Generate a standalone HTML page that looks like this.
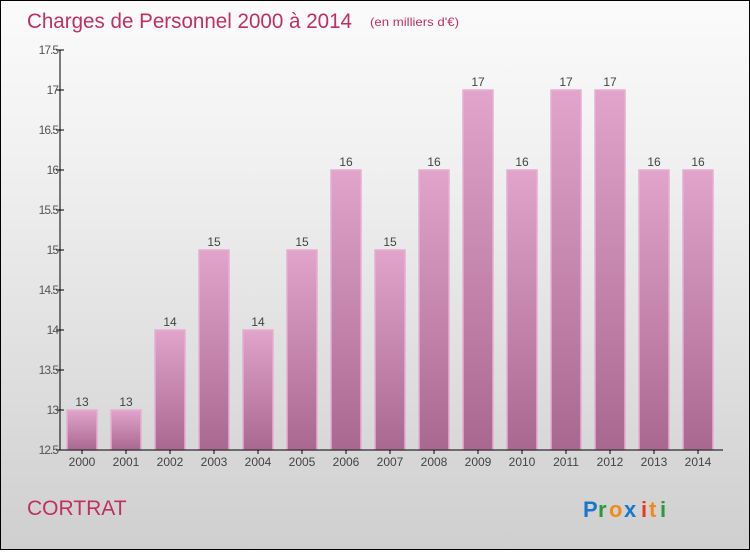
<!DOCTYPE html>
<html><head><meta charset="utf-8"><style>
body{margin:0;width:750px;height:550px;overflow:hidden;font-family:"Liberation Sans",sans-serif}
#c{position:absolute;left:0;top:0;width:748px;height:548px;border:1px solid #000;background:linear-gradient(#fbfbfb,#f0f0f0 30%,#cfcfcf)}
</style></head><body>
<div id="c">
<svg width="748" height="548">
<defs><linearGradient id="bg" x1="0" y1="0" x2="0" y2="1"><stop offset="0" stop-color="#e2a4cb"/><stop offset="1" stop-color="#a9688f"/></linearGradient></defs>
<text x="26" y="27" font-size="21" fill="#c0305f" textLength="325" lengthAdjust="spacingAndGlyphs">Charges de Personnel 2000 à 2014</text>
<text x="369" y="25" font-size="12" fill="#c0305f" textLength="89" lengthAdjust="spacingAndGlyphs">(en milliers d'€)</text>
<text x="26" y="514" font-size="21" fill="#c0305f">CORTRAT</text>
<g font-size="22" font-weight="bold">
<text x="582" y="516" fill="#1a78c8">P</text><text x="597" y="516" fill="#2a9a3a">r</text><text x="608" y="516" fill="#f08a1a">o</text><text x="623" y="516" fill="#1a78c8">x</text><text x="640" y="516" fill="#e83a1a">i</text><text x="648" y="516" fill="#f08a1a">t</text><text x="659" y="516" fill="#2a9a3a">i</text></g>
<g id="plot"></g>
</svg></div>
<script>
const categories=["2000","2001","2002","2003","2004","2005","2006","2007","2008","2009","2010","2011","2012","2013","2014"];
const values=[13,13,14,15,14,15,16,15,16,17,16,17,17,16,16];
const yTicks=[12.5,13,13.5,14,14.5,15,15.5,16,16.5,17,17.5];
const yMin=12.5,yMax=17.5,plotTop=49,plotBot=449,x0=59;
const y=v=>plotBot-(v-yMin)/(yMax-yMin)*(plotBot-plotTop);
const xc=i=>81+i*44;
const g=document.getElementById('plot');const NS="http://www.w3.org/2000/svg";
function mk(t,a,txt){const e=document.createElementNS(NS,t);for(const k in a)e.setAttribute(k,a[k]);if(txt!=null)e.textContent=txt;g.appendChild(e);return e;}
values.forEach((v,i)=>{
const r=mk('rect',{x:xc(i)-15,y:y(v),width:30,height:plotBot-y(v),fill:'url(#bg)',stroke:'#e6aed2','stroke-width':1.5});


const t=mk('text',{x:xc(i),y:y(v)-4,'font-size':12,fill:'#444','text-anchor':'middle'},String(v));


const l=mk('text',{x:xc(i),y:plotBot+16,'font-size':12,fill:'#444','text-anchor':'middle'},categories[i]);


mk('line',{x1:xc(i),x2:xc(i),y1:plotBot,y2:plotBot+4,stroke:'#000'});
});
yTicks.forEach(v=>{
mk('line',{x1:x0-4,x2:x0+4,y1:y(v),y2:y(v),stroke:'#000'});
const t=mk('text',{x:x0-2,y:y(v)+4,'font-size':12,fill:'#555','text-anchor':'end','letter-spacing':'-1'},String(v));


});
const ya=mk('line',{x1:x0,x2:x0,y1:plotTop,y2:plotBot,stroke:'#000'});


const xa=mk('line',{x1:x0,x2:722,y1:plotBot,y2:plotBot,stroke:'#000'});


</script>
</body></html>
